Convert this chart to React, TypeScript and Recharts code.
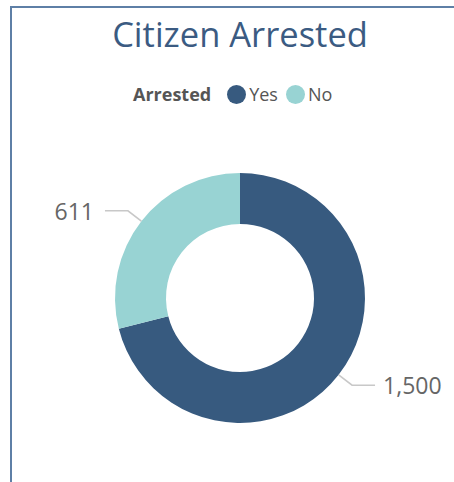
import React from "react";
import { PieChart, Pie, Cell, Legend } from "recharts";

const categories = ["Yes", "No"];
const values = [1500, 611];
const colors = ["#375A7F", "#98D3D3"];
const chartTitle = "Citizen Arrested";
const legendTitle = "Arrested";

const data = categories.map((name, i) => ({ name, value: values[i] }));

const RAD = Math.PI / 180;
const FONT = "'Open Sans', 'Noto Sans', sans-serif";

const renderLabel = (props: any) => {
  const { cx, cy, midAngle, outerRadius, value } = props;
  const cos = Math.cos(-midAngle * RAD);
  const sin = Math.sin(-midAngle * RAD);
  const x0 = cx + outerRadius * cos;
  const y0 = cy + outerRadius * sin;
  const r1 = outerRadius + 17;
  const x1 = cx + r1 * cos;
  const y1 = cy + r1 * sin;
  const right = cos >= 0;
  const x2 = x1 + (right ? 23 : -23);
  const tx = x2 + (right ? 8 : -11);
  return (
    <g>
      <polyline
        points={`${x0},${y0} ${x1},${y1} ${x2},${y1}`}
        fill="none"
        stroke="#c8c8c8"
        strokeWidth={1.6}
      />
      <text
        x={tx}
        y={y1}
        textAnchor={right ? "start" : "end"}
        dominantBaseline="central"
        fill="#666666"
        fontSize={23}
        fontFamily={FONT}
      >
        {Number(value).toLocaleString("en-US")}
      </text>
    </g>
  );
};

const renderLegend = () => (
  <div
    style={{
      display: "flex",
      alignItems: "center",
      fontFamily: FONT,
      fontSize: 18,
      color: "#555555",
      position: "absolute",
      left: 133,
      top: 82,
      whiteSpace: "nowrap",
    }}
  >
    <span style={{ fontWeight: 700, marginRight: 16 }}>{legendTitle}</span>
    {categories.map((c, i) => (
      <span key={c} style={{ display: "flex", alignItems: "center", marginRight: 8 }}>
        <span
          style={{
            display: "inline-block",
            width: 19,
            height: 19,
            borderRadius: "50%",
            background: colors[i],
            marginRight: 3,
          }}
        />
        <span>{c}</span>
      </span>
    ))}
  </div>
);

export default function App() {
  return (
    <div
      style={{
        position: "absolute",
        left: 0,
        top: 0,
        width: 454,
        height: 482,
        background: "#ffffff",
        overflow: "hidden",
      }}
    >
      <div
        style={{
          position: "absolute",
          left: 10,
          top: 6,
          right: -10,
          bottom: -10,
          borderTop: "2px solid #5E7FA6",
          borderLeft: "2px solid #5E7FA6",
        }}
      />
      <div
        style={{
          position: "absolute",
          left: 0,
          width: 480,
          top: 10,
          textAlign: "center",
          fontFamily: FONT,
          fontSize: 34.5,
          color: "#3B5B82",
          lineHeight: "48px",
        }}
      >
        {chartTitle}
      </div>
      <div style={{ position: "absolute", left: 0, top: 0 }}>
        <PieChart width={454} height={482}>
          <Legend
            content={renderLegend}
            wrapperStyle={{ position: "absolute", left: 0, top: 0, width: 0, height: 0 }}
          />
          <Pie
            data={data}
            dataKey="value"
            nameKey="name"
            cx={235}
            cy={293}
            innerRadius={74}
            outerRadius={125}
            startAngle={90}
            endAngle={-270}
            stroke="none"
            isAnimationActive={false}
            label={renderLabel}
            labelLine={false}
          >
            {data.map((d, i) => (
              <Cell key={d.name} fill={colors[i]} />
            ))}
          </Pie>
        </PieChart>
      </div>
    </div>
  );
}
